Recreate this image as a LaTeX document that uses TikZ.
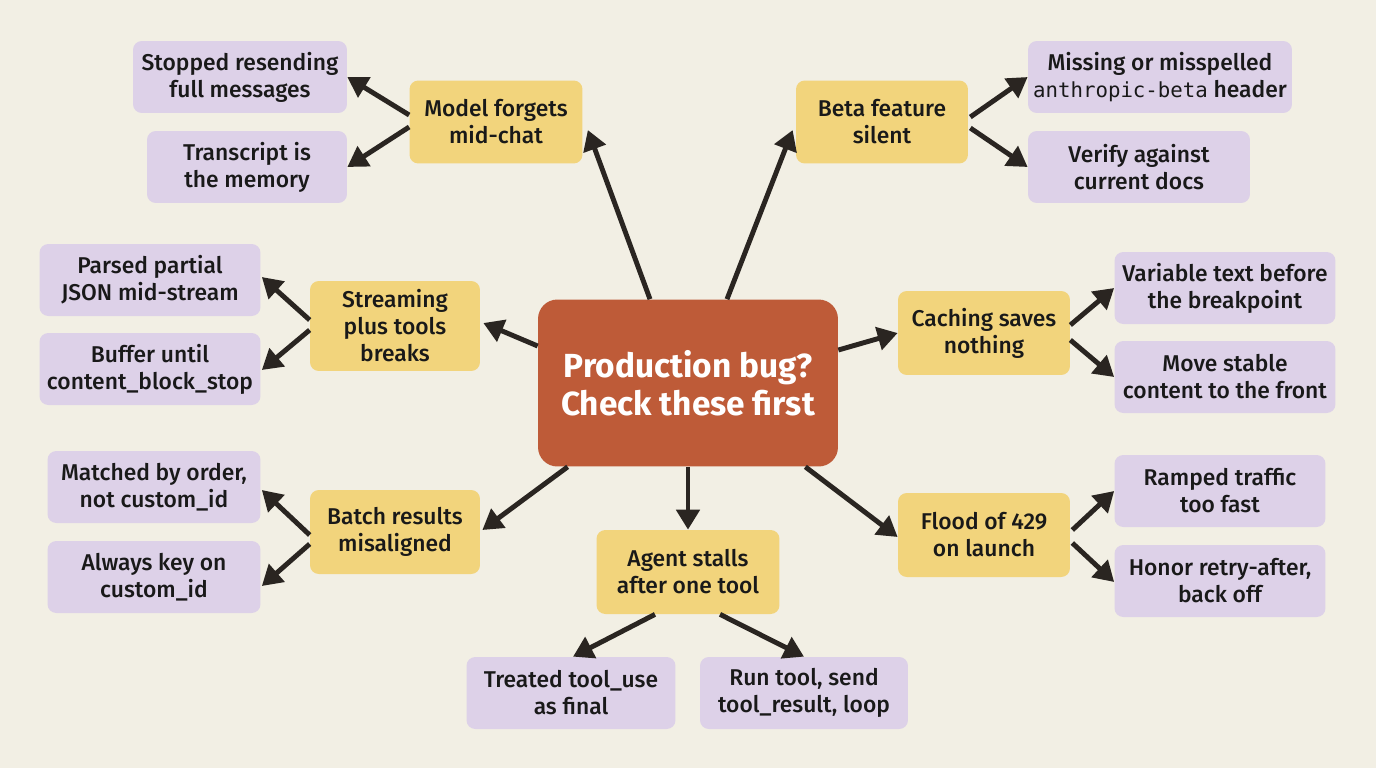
\documentclass[tikz,border=0pt]{standalone}
\usepackage{fontspec}
\setmainfont{Fira Sans}[UprightFont={* Medium},BoldFont={* Bold}]
\newfontfamily\codefont{DejaVu Sans Mono}
\usepackage{xcolor}
\usetikzlibrary{positioning,arrows.meta,calc}
\definecolor{paper}{HTML}{F2EFE4}
\definecolor{hubred}{HTML}{BE5B38}
\definecolor{issueyel}{HTML}{F2D47C}
\definecolor{fixlil}{HTML}{DDD1E8}
\definecolor{ink}{HTML}{2A2521}
\newcommand{\code}[1]{{\codefont\fontsize{11.8}{15}\selectfont #1}}

\begin{document}
\begin{tikzpicture}[x=0.02cm, y=-0.02cm,
  font=\fontsize{13}{15.4}\selectfont,
  box/.style={rounded corners=5pt, align=center, inner sep=2pt, text=black!90},
  hub/.style={box, fill=hubred, text=white, rounded corners=11pt,
              minimum width=6cm, minimum height=3.34cm,
              font=\fontsize{19}{21.5}\selectfont\bfseries},
  issue/.style={box, fill=issueyel, minimum height=1.68cm},
  fix/.style={box, fill=fixlil, minimum height=1.44cm},
  arr/.style={draw=ink, line width=2.8pt, -{Triangle[length=0.4cm,width=0.46cm]}},
]
\fill[paper] (0,0) rectangle (1376,768);
% ---------- hub ----------
\node[hub] (hub) at (688,383) {Production bug?\\Check these first};
% ---------- issues ----------
\node[issue, minimum width=3.46cm, minimum height=1.66cm] (model) at (496,122) {Model forgets\\mid-chat};
\node[issue, minimum width=3.44cm, minimum height=1.66cm] (beta) at (882,122) {Beta feature\\silent};
\node[issue, minimum width=3.4cm, minimum height=1.8cm] (stream) at (395,326) {Streaming\\plus tools\\breaks};
\node[issue, minimum width=3.44cm] (cache) at (984,333) {Caching saves\\nothing};
\node[issue, minimum width=3.4cm] (batch) at (395,532) {Batch results\\misaligned};
\node[issue, minimum width=3.66cm] (agent) at (688,572) {Agent stalls\\after one tool};
\node[issue, minimum width=3.44cm] (flood) at (984,535) {Flood of 429\\on launch};
% ---------- fixes ----------
\node[fix, minimum width=4.28cm] (resend) at (240,77) {Stopped resending\\full messages};
\node[fix, minimum width=4.0cm] (transcript) at (247,167) {Transcript is\\the memory};
\node[fix, minimum width=5.28cm] (header) at (1160,77) {Missing or misspelled\\\code{anthropic-beta} header};
\node[fix, minimum width=4.44cm] (docs) at (1139,167) {Verify against\\current docs};
\node[fix, minimum width=4.42cm] (partial) at (150,280) {Parsed partial\\JSON mid-stream};
\node[fix, minimum width=4.42cm] (buffer) at (150,369) {Buffer until\\content\_block\_stop};
\node[fix, minimum width=4.42cm] (variable) at (1225,288) {Variable text before\\the breakpoint};
\node[fix, minimum width=4.42cm] (stable) at (1225,377) {Move stable\\content to the front};
\node[fix, minimum width=4.26cm] (order) at (154,487) {Matched by order,\\not custom\_id};
\node[fix, minimum width=4.26cm] (key) at (154,577) {Always key on\\custom\_id};
\node[fix, minimum width=4.22cm] (ramp) at (1220,491) {Ramped traffic\\too fast};
\node[fix, minimum width=4.22cm] (retry) at (1220,581) {Honor retry-after,\\back off};
\node[fix, minimum width=4.18cm] (final) at (571,693) {Treated tool\_use\\as final};
\node[fix, minimum width=4.16cm] (loop) at (804,693) {Run tool, send\\tool\_result, loop};
% ---------- hub to issues ----------
\draw[arr] ($(hub.north)+(-38,0)$) -- ($(model.east)+(5,8)$);
\draw[arr] ($(hub.north)+(39,0)$) -- ($(beta.west)+(-3,8)$);
\draw[arr] ($(hub.west)+(0,-37)$) -- ($(stream.east)+(3,-3)$);
\draw[arr] ($(hub.east)+(0,-33)$) -- (cache.west);
\draw[arr] ($(hub.south west)+(30,0)$) -- ($(batch.east)+(2,-2)$);
\draw[arr] (hub.south) -- (agent.north);
\draw[arr] ($(hub.south east)+(-33,0)$) -- ($(flood.west)+(0,2)$);
% ---------- issues to fixes ----------
\draw[arr] ($(model.west)+(0,-7)$) -- (resend.east);
\draw[arr] ($(model.west)+(0,5)$) -- (transcript.east);
\draw[arr] ($(beta.east)+(2,-5)$) -- (header.west);
\draw[arr] ($(beta.east)+(2,6)$) -- (docs.west);
\draw[arr] ($(stream.west)+(0,-6)$) -- ($(partial.east)+(1,-3)$);
\draw[arr] ($(stream.west)+(0,4)$) -- ($(buffer.east)+(1,1)$);
\draw[arr] ($(cache.east)+(0,-8)$) -- (variable.west);
\draw[arr] ($(cache.east)+(0,7)$) -- (stable.west);
\draw[arr] ($(batch.west)+(0,3)$) -- ($(order.east)+(1,3)$);
\draw[arr] ($(batch.west)+(0,12)$) -- ($(key.east)+(1,9)$);
\draw[arr] ($(flood.east)+(2,-5)$) -- (ramp.west);
\draw[arr] ($(flood.east)+(2,8)$) -- ($(retry.west)+(0,1)$);
\draw[arr] ($(agent.south)+(-33,0)$) -- ($(final.north)+(2,0)$);
\draw[arr] ($(agent.south)+(32,0)$) -- (loop.north);
\end{tikzpicture}
\end{document}
